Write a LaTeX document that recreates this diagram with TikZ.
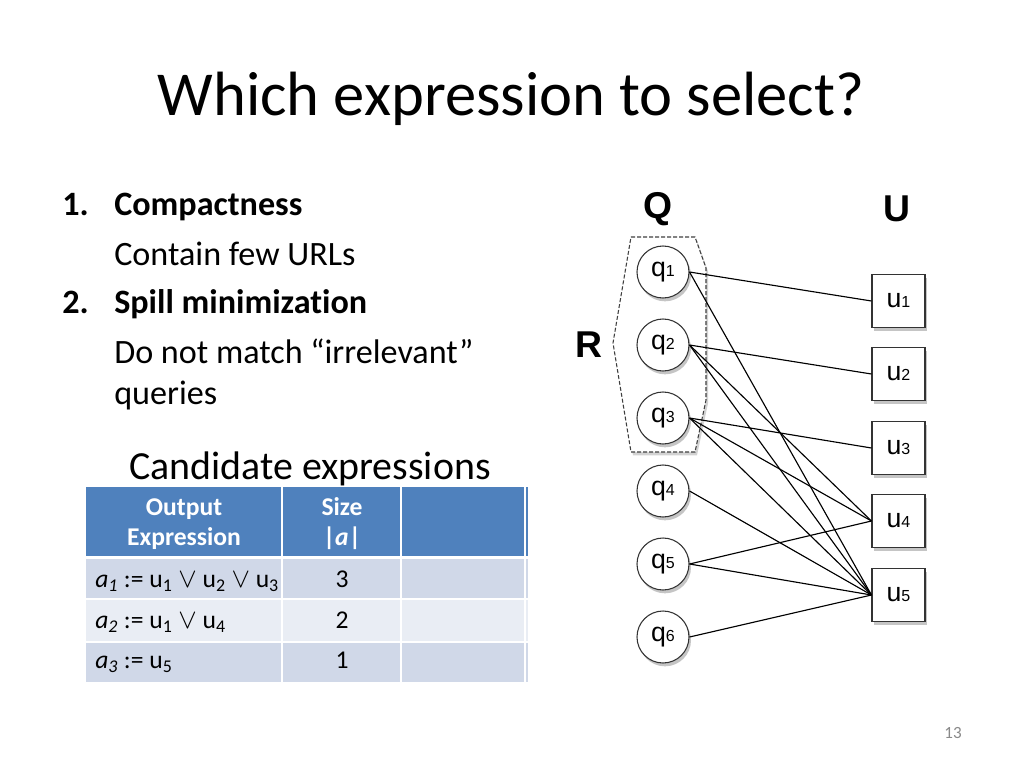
\documentclass[tikz,border=0pt]{standalone}
\usepackage{fontspec}
\setmainfont{Carlito}[Ligatures=NoCommon]
\newfontfamily\arialf{Liberation Sans}
\usetikzlibrary{shadows}
\definecolor{hdrblue}{HTML}{4F81BD}
\definecolor{rowa}{HTML}{D0D8E8}
\definecolor{rowb}{HTML}{E9EDF4}
\definecolor{pagegray}{HTML}{898989}
\newcommand\nlab[2]{{\arialf\fontsize{20}{20}\selectfont #1}{\arialf\fontsize{12}{12}\selectfont #2}}
\newcommand\sbs[1]{\textsubscript{#1}}
\begin{document}
\begin{tikzpicture}[x=0.75pt,y=-0.75pt,
  qnode/.style={circle, draw=black!80, line width=0.8pt, fill=white, minimum size=39pt, inner sep=0pt,
    drop shadow={shadow xshift=1.5pt, shadow yshift=-2.5pt, opacity=0.45}},
  unode/.style={rectangle, draw=black!80, line width=0.8pt, fill=white, minimum size=39.75pt, inner sep=0pt,
    drop shadow={shadow xshift=1.5pt, shadow yshift=-2.5pt, opacity=0.45}},
  link/.style={line width=0.85pt, black},
  biglab/.style={font=\arialf\bfseries\fontsize{28}{28}\selectfont},
  bodytxt/.style={anchor=base west, inner sep=0pt, font=\fontsize{25.6}{28}\selectfont},
  tbltxt/.style={anchor=base, inner sep=0pt, font=\fontsize{19.2}{21}\selectfont},
  hdrtxt/.style={anchor=base, inner sep=0pt, text=white, font=\fontsize{19.2}{21}\selectfont\bfseries},
  groupR/.style={draw=black!75, fill=white, line width=0.8pt, dash pattern=on 3pt off 1.5pt,
    drop shadow={shadow xshift=1.5pt, shadow yshift=-2.5pt, opacity=0.35}}
]
\useasboundingbox (0,0) rectangle (1024,768);
\fill[white] (0,0) rectangle (1024,768);

% title
\node[anchor=base, inner sep=0pt, font=\fontsize{46.9}{50}\selectfont] (title) at (511,115) {Which expression to select?};

% body text
\node[bodytxt, font=\fontsize{25.6}{28}\selectfont\bfseries] (n1) at (62,215) {1.};
\node[bodytxt, font=\fontsize{25.6}{28}\selectfont\bfseries] (c1) at (114,215) {Compactness};
\node[bodytxt] (c1b) at (114,265) {Contain few URLs};
\node[bodytxt, font=\fontsize{25.6}{28}\selectfont\bfseries] (n2) at (62,313) {2.};
\node[bodytxt, font=\fontsize{25.6}{28}\selectfont\bfseries] (c2) at (114,313) {Spill minimization};
\node[bodytxt] (c2b) at (114,363) {Do not match “irrelevant”};
\node[bodytxt] (c2c) at (114,404) {queries};

% candidate expressions
\node[anchor=base, inner sep=0pt, font=\fontsize{29.9}{32}\selectfont] (cand) at (310,479) {Candidate expressions};

% table cells
\fill[hdrblue] (86,487) rectangle (281,556);
\fill[hdrblue] (283,487) rectangle (400,556);
\fill[hdrblue] (402,487) rectangle (524,556);
\fill[hdrblue] (526,487) rectangle (528,556);
\foreach \ya/\yb/\c in {559/598/rowa, 600/641/rowb, 643/682/rowa}{
  \fill[\c] (86,\ya) rectangle (281,\yb);
  \fill[\c] (283,\ya) rectangle (400,\yb);
  \fill[\c] (402,\ya) rectangle (524,\yb);
  \fill[\c] (526,\ya) rectangle (528,\yb);
}
\node[hdrtxt] (h1a) at (184,515) {Output};
\node[hdrtxt] (h1b) at (184,545) {Expression};
\node[hdrtxt] (h2a) at (342,515) {Size};
\node[hdrtxt] (h2b) at (342,545) {|\textit{a}|};
\node[tbltxt, anchor=base west] (r1) at (95,587) {\textit{a\sbs{1}} := u\sbs{1} $\vee$ u\sbs{2} $\vee$ u\sbs{3}};
\node[tbltxt, anchor=base west] (r2) at (95,628) {\textit{a\sbs{2}} := u\sbs{1} $\vee$ u\sbs{4}};
\node[tbltxt, anchor=base west] (r3) at (95,668) {\textit{a\sbs{3}} := u\sbs{5}};
\node[tbltxt] (s1) at (342,587) {3};
\node[tbltxt] (s2) at (342,628) {2};
\node[tbltxt] (s3) at (342,668) {1};

% graph labels
\node[biglab] (Q) at (658,209) {Q};
\node[biglab] (U) at (897,209) {U};
\node[biglab] (R) at (589,345) {R};

% group R
\draw[groupR] (631,237) -- (695,237) -- (706,268) -- (706,400) -- (695,452) -- (631,452) -- (613,343) -- cycle;

% query nodes
\node[qnode] (q1) at (663,272) {\nlab{q}{1}};
\node[qnode] (q2) at (663,345) {\nlab{q}{2}};
\node[qnode] (q3) at (663,418) {\nlab{q}{3}};
\node[qnode] (q4) at (663,491) {\nlab{q}{4}};
\node[qnode] (q5) at (663,564) {\nlab{q}{5}};
\node[qnode] (q6) at (663,637) {\nlab{q}{6}};

% url nodes
\node[unode] (u1) at (898.5,301) {\nlab{u}{1}};
\node[unode] (u2) at (898.5,374) {\nlab{u}{2}};
\node[unode] (u3) at (898.5,448) {\nlab{u}{3}};
\node[unode] (u4) at (898.5,521) {\nlab{u}{4}};
\node[unode] (u5) at (898.5,595) {\nlab{u}{5}};

% edges
\foreach \a/\b in {q1/u1, q1/u5, q2/u2, q2/u4, q2/u5, q3/u3, q3/u4, q3/u5, q4/u5, q5/u4, q5/u5, q6/u5}{
  \draw[link] (\a.east) -- (\b.west);
}

% page number
\node[anchor=base, inner sep=0pt, text=pagegray, font=\fontsize{12.8}{14}\selectfont] (pg) at (953,738) {13};
\end{tikzpicture}
\end{document}
